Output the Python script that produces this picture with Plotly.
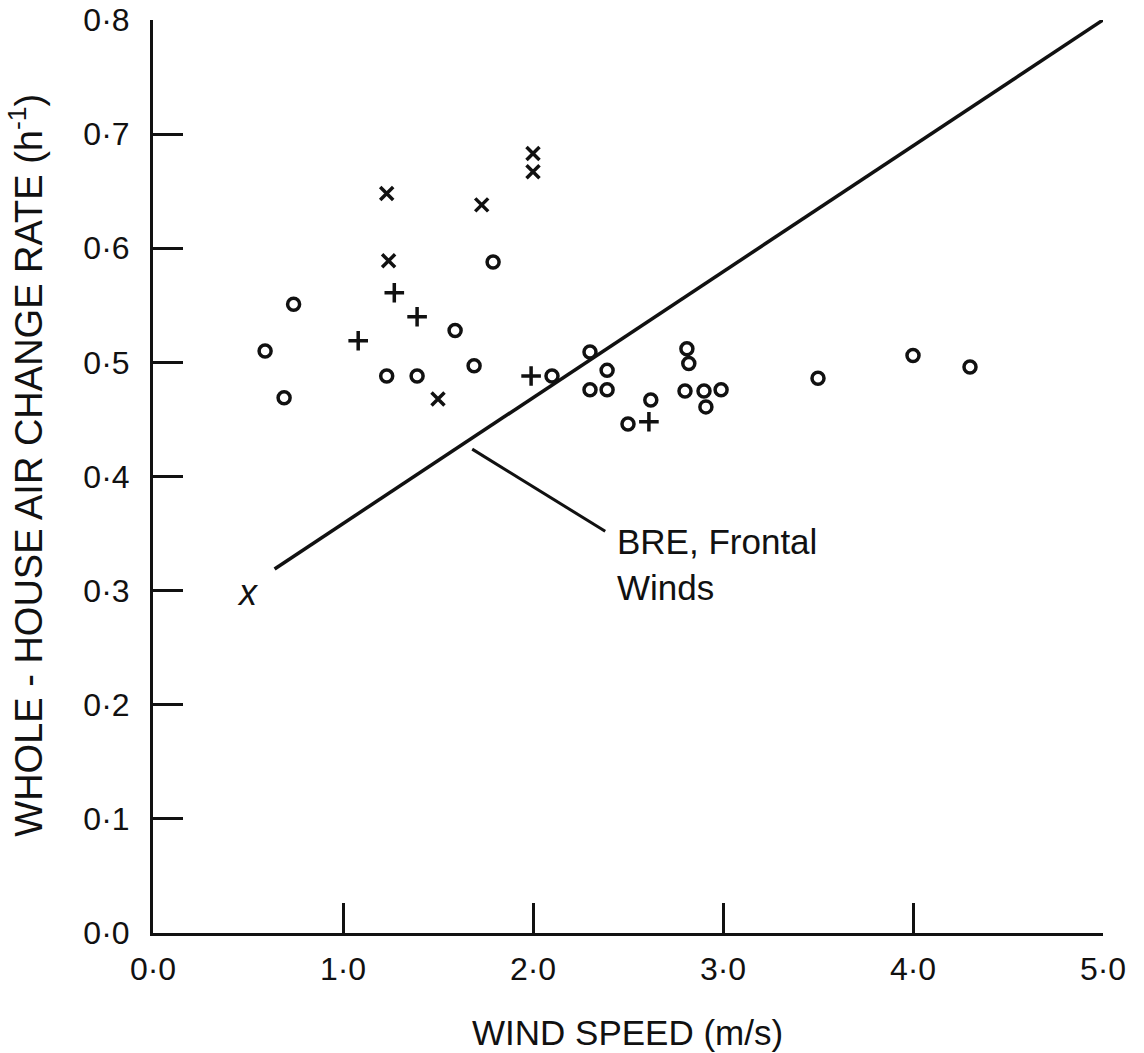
import plotly.graph_objects as go

# Circles (o)
circle_x = [0.59, 0.69, 0.74, 1.23, 1.39, 1.59, 1.69, 1.79, 2.10, 2.30, 2.30, 2.39, 2.39,
            2.50, 2.62, 2.81, 2.82, 2.80, 2.90, 2.91, 2.99, 3.50, 4.00, 4.30]
circle_y = [0.510, 0.469, 0.551, 0.488, 0.488, 0.528, 0.497, 0.588, 0.488, 0.509, 0.476, 0.493, 0.476,
            0.446, 0.467, 0.512, 0.499, 0.475, 0.475, 0.461, 0.476, 0.486, 0.506, 0.496]

# Crosses (x)
xmark_x = [2.00, 2.00, 1.23, 1.73, 1.24, 1.50]
xmark_y = [0.683, 0.667, 0.648, 0.638, 0.589, 0.468]

# Plus (+)
plus_x = [1.27, 1.39, 1.08, 1.99, 2.61]
plus_y = [0.561, 0.540, 0.519, 0.488, 0.448]

# BRE frontal winds line
bre_x = [0.64, 5.0]
bre_y = [0.319, 0.800]

x_ticks = [0, 1, 2, 3, 4, 5]
x_tick_labels = ["0·0", "1·0", "2·0", "3·0", "4·0", "5·0"]
y_ticks = [0, 0.1, 0.2, 0.3, 0.4, 0.5, 0.6, 0.7, 0.8]
y_tick_labels = ["0·0", "0·1", "0·2", "0·3", "0·4", "0·5", "0·6", "0·7", "0·8"]

FONT = "Liberation Sans, Arial, sans-serif"
INK = "#111111"

fig = go.Figure()
fig.add_trace(go.Scatter(x=bre_x, y=bre_y, mode="lines",
                         line=dict(color=INK, width=3.5), showlegend=False, hoverinfo="skip"))
fig.add_trace(go.Scatter(x=circle_x, y=circle_y, mode="markers",
                         marker=dict(symbol="circle-open", size=12, color=INK, line=dict(width=3.5, color=INK)),
                         showlegend=False))
fig.add_trace(go.Scatter(x=xmark_x, y=xmark_y, mode="markers",
                         marker=dict(symbol="x-thin", size=13, color=INK, line=dict(width=3.5, color=INK)),
                         showlegend=False))
fig.add_trace(go.Scatter(x=plus_x, y=plus_y, mode="markers",
                         marker=dict(symbol="cross-thin", size=14, color=INK, line=dict(width=3.5, color=INK)),
                         showlegend=False))

# handwritten x at start of line
fig.add_annotation(x=0.5, y=0.298, text="<i>x</i>", showarrow=False,
                   font=dict(family=FONT, size=36, color=INK), xanchor="center", yanchor="middle")

# leader line and label
fig.add_shape(type="line", x0=1.68, y0=0.424, x1=2.38, y1=0.352,
              line=dict(color=INK, width=3))
fig.add_annotation(x=2.43, y=0.362, text="BRE, Frontal<br>Winds", showarrow=False, align="left",
                   xanchor="left", yanchor="top",
                   font=dict(family=FONT, size=35, color=INK))

# axis titles
fig.add_annotation(xref="paper", yref="paper", x=0.499, y=-0.1095, text="WIND SPEED (m/s)",
                   showarrow=False, xanchor="center", yanchor="middle",
                   font=dict(family=FONT, size=35, color=INK))
fig.add_annotation(xref="paper", yref="paper", x=-0.134, y=0.5126,
                   text="WHOLE - HOUSE AIR CHANGE RATE (h<sup>-1</sup>)", textangle=-90,
                   showarrow=False, xanchor="center", yanchor="middle",
                   font=dict(family=FONT, size=38, color=INK))

fig.update_xaxes(range=[0, 5], tickvals=x_ticks, ticktext=x_tick_labels,
                 ticks="inside", ticklen=30, tickwidth=2.5, tickcolor=INK,
                 showline=True, linewidth=3, linecolor=INK, showgrid=False, zeroline=False,
                 tickfont=dict(family=FONT, size=32, color=INK), ticklabelstandoff=6,
                 automargin=False)
fig.update_yaxes(range=[0, 0.8], tickvals=y_ticks, ticktext=y_tick_labels,
                 ticks="inside", ticklen=30, tickwidth=2.5, tickcolor=INK,
                 showline=True, linewidth=3, linecolor=INK, showgrid=False, zeroline=False,
                 tickfont=dict(family=FONT, size=32, color=INK), ticklabelstandoff=14,
                 automargin=False)

fig.update_layout(width=1144, height=1053, margin=dict(l=153, r=41, t=20, b=120),
                  paper_bgcolor="white", plot_bgcolor="white")

fig.write_html("out.html", config={"displayModeBar": False},
               post_script="document.body.style.margin='0';document.body.style.overflow='hidden';")
